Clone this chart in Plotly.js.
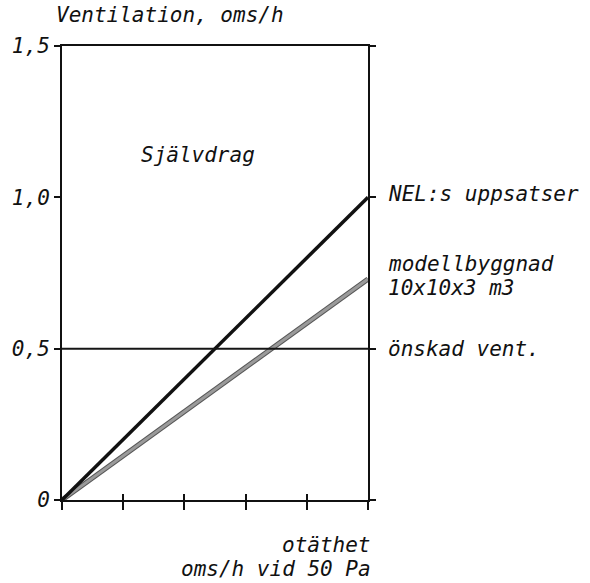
<!DOCTYPE html>
<html>
<head>
<meta charset="utf-8">
<script src="https://cdn.plot.ly/plotly-3.0.1.min.js"></script>
<style>
  html, body { margin: 0; padding: 0; background: #fff; }
  #graph { width: 590px; height: 583px; }
</style>
</head>
<body>
<div id="graph"></div>
<script>
// otäthet (oms/h vid 50 Pa), no printed values on the axis
const xTicks = [0, 1, 2, 3, 4, 5];
const yTickVals = [0, 0.5, 1.0, 1.5];
const yTickText = ["0", "0,5", "1,0", "1,5"];

const nelX = [0, 5];
const nelY = [0, 1.0];
const modelX = [0, 5];
const modelY = [0, 0.73];
const wantX = [0, 5];
const wantY = [0.5, 0.5];

const font = { family: "DejaVu Sans Mono, monospace", size: 21, color: "#111", style: "italic" };

function label(text, x, y, xref, yref, anchor) {
  return { text, x, y, xref, yref, xanchor: anchor || "left", yanchor: "middle", showarrow: false, font };
}

const traces = [
  // the 0.5 line sits on the overlay axis so its inside ticks get drawn too
  { x: wantX, y: wantY, xaxis: "x2", type: "scatter", mode: "lines", line: { color: "#151515", width: 2 }, hoverinfo: "skip" },
  { x: modelX, y: modelY, type: "scatter", mode: "lines", line: { color: "#555", width: 5 }, hoverinfo: "skip" },
  { x: modelX, y: modelY, type: "scatter", mode: "lines", line: { color: "#9a9a9a", width: 3 }, hoverinfo: "skip" },
  { x: nelX, y: nelY, type: "scatter", mode: "lines", line: { color: "#111", width: 3.5 }, hoverinfo: "skip" }
];

const layout = {
  width: 590,
  height: 583,
  margin: { l: 62, r: 222, t: 46, b: 83 },
  paper_bgcolor: "#fff",
  plot_bgcolor: "#fff",
  showlegend: false,
  font,
  xaxis: {
    range: [0, 5], tickvals: xTicks, showticklabels: false,
    ticks: "outside", ticklen: 8, tickwidth: 2, tickcolor: "#111",
    showline: true, linecolor: "#111", linewidth: 2, mirror: true,
    showgrid: false, zeroline: false, fixedrange: true
  },
  xaxis2: {
    overlaying: "x", side: "bottom", range: [0, 5], tickvals: xTicks, showticklabels: false,
    ticks: "inside", ticklen: 6, tickwidth: 2, tickcolor: "#111",
    showline: false, showgrid: false, zeroline: false, fixedrange: true
  },
  yaxis: {
    range: [0, 1.5], tickvals: yTickVals, ticktext: yTickText,
    ticks: "outside", ticklen: 6, tickwidth: 2, tickcolor: "#111",
    showline: true, linecolor: "#111", linewidth: 2, mirror: "ticks",
    showgrid: false, zeroline: false, fixedrange: true,
    tickfont: font
  },
  annotations: [
    label("Ventilation, oms/h", -0.025, 1.068, "paper", "paper"),
    label("Självdrag", 2.22, 1.14, "x", "y", "center"),
    label("NEL:s uppsatser", 1.059, 1.01, "paper", "y"),
    label("modellbyggnad", 1.059, 0.78, "paper", "y"),
    label("10x10x3 m3", 1.059, 0.70, "paper", "y"),
    label("önskad vent.", 1.059, 0.5, "paper", "y"),
    label("otäthet", 1.016, -0.099, "paper", "paper", "right"),
    label("oms/h vid 50 Pa", 1.016, -0.152, "paper", "paper", "right")
  ]
};

Plotly.newPlot("graph", traces, layout, { staticPlot: true, displayModeBar: false });
</script>
</body>
</html>
